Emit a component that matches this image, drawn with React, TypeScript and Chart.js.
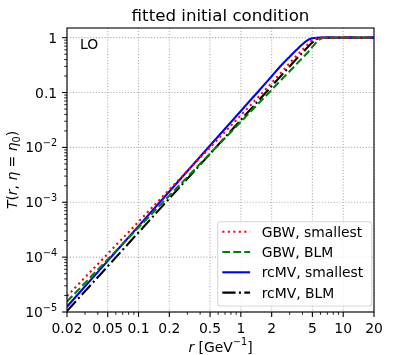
import React, { useEffect, useRef } from 'react';
import { Chart, registerables } from 'chart.js';
Chart.register(...registerables);

// ---- data ----
const rValues = [0.02, 0.05, 0.1, 0.2, 0.5, 1, 1.5, 2, 2.5, 3, 3.5, 4, 4.5, 5, 5.5, 6, 6.5, 7, 10, 20];
const gbwSmallest = [1.95e-5, 1.15e-4, 4.43e-4, 1.7e-3, 1.0e-2, 0.0385, 0.0846, 0.15, 0.235, 0.345, 0.47, 0.6, 0.75, 0.9, 0.975, 0.997, 1, 1, 1, 1];
const gbwBLM = [1.55e-5, 9.08e-5, 3.46e-4, 1.32e-3, 7.73e-3, 0.0294, 0.0644, 0.112, 0.173, 0.245, 0.33, 0.428, 0.537, 0.68, 0.83, 0.95, 0.99, 1, 1, 1];
const rcmvSmallest = [1.25e-5, 8.56e-5, 3.67e-4, 1.57e-3, 1.08e-2, 0.0462, 0.108, 0.198, 0.317, 0.45, 0.6, 0.76, 0.9, 0.975, 0.997, 1, 1, 1, 1, 1];
const rcmvBLM = [1.04e-5, 6.8e-5, 2.82e-4, 1.17e-3, 7.64e-3, 0.0316, 0.0726, 0.131, 0.207, 0.3, 0.412, 0.53, 0.67, 0.82, 0.94, 0.985, 0.998, 1, 1, 1];

const seriesLabels = ['GBW, smallest', 'GBW, BLM', 'rcMV, smallest', 'rcMV, BLM'];
const xTickValues = [0.02, 0.05, 0.1, 0.2, 0.5, 1, 2, 5, 10, 20];
const xTickLabels = ['0.02', '0.05', '0.1', '0.2', '0.5', '1', '2', '5', '10', '20'];
const yTickValues = [1e-5, 1e-4, 1e-3, 1e-2, 0.1, 1];
const yTickBase = ['10', '10', '10', '10', '0.1', '1'];
const yTickExp = ['\u22125', '\u22124', '\u22123', '\u22122', '', ''];
const titleText = 'fitted initial condition';
const panelLabel = 'LO';

const FONT = '"DejaVu Sans", sans-serif';
const FS = 13.9;

const styles = [
  { color: '#ff0000', dash: [2.1, 3.4] },
  { color: '#008000', dash: [7.7, 3.3] },
  { color: '#0000ff', dash: [] as number[] },
  { color: '#000000', dash: [13.3, 3.3, 2.1, 3.3] },
];
const LW = 2.1;

function minorValues(min: number, max: number, majors: number[]) {
  const out: number[] = [];
  for (let e = -6; e <= 2; e++) {
    for (let m = 1; m <= 9; m++) {
      const v = m * Math.pow(10, e);
      if (v >= min * 0.999 && v <= max * 1.001 && !majors.some((t) => Math.abs(t - v) / v < 1e-6)) out.push(v);
    }
  }
  return out;
}

function drawPieces(ctx: CanvasRenderingContext2D, pieces: { t: string; f: string; dy?: number }[], cx: number, baseY: number) {
  let total = 0;
  for (const p of pieces) {
    ctx.font = p.f;
    total += ctx.measureText(p.t).width;
  }
  let x = cx - total / 2;
  ctx.textAlign = 'left';
  ctx.textBaseline = 'alphabetic';
  for (const p of pieces) {
    ctx.font = p.f;
    ctx.fillText(p.t, x, baseY + (p.dy || 0));
    x += ctx.measureText(p.t).width;
  }
}

const overlay = {
  id: 'overlay',
  beforeDatasetsDraw(chart: any) {
    const { ctx, chartArea: a, scales } = chart;
    const x = scales.x, y = scales.y;
    ctx.save();
    ctx.strokeStyle = '#b0b0b0';
    ctx.lineWidth = 1.1;
    ctx.setLineDash([1.1, 1.8]);
    for (const v of xTickValues) {
      const px = x.getPixelForValue(v);
      ctx.beginPath();
      ctx.moveTo(px, a.top);
      ctx.lineTo(px, a.bottom);
      ctx.stroke();
    }
    for (const v of yTickValues) {
      const py = y.getPixelForValue(v);
      ctx.beginPath();
      ctx.moveTo(a.left, py);
      ctx.lineTo(a.right, py);
      ctx.stroke();
    }
    ctx.restore();
  },
  afterDraw(chart: any) {
    const { ctx, chartArea: a, scales } = chart;
    const x = scales.x, y = scales.y;
    ctx.save();
    ctx.fillStyle = '#000';
    ctx.strokeStyle = '#000';
    ctx.setLineDash([]);

    // ticks
    ctx.lineWidth = 1.1;
    for (const v of xTickValues) {
      const px = x.getPixelForValue(v);
      ctx.beginPath();
      ctx.moveTo(px, a.bottom);
      ctx.lineTo(px, a.bottom + 4.9);
      ctx.stroke();
    }
    for (const v of yTickValues) {
      const py = y.getPixelForValue(v);
      ctx.beginPath();
      ctx.moveTo(a.left, py);
      ctx.lineTo(a.left - 4.9, py);
      ctx.stroke();
    }
    ctx.lineWidth = 0.85;
    for (const v of minorValues(0.02, 20, xTickValues)) {
      const px = x.getPixelForValue(v);
      ctx.beginPath();
      ctx.moveTo(px, a.bottom);
      ctx.lineTo(px, a.bottom + 2.8);
      ctx.stroke();
    }
    for (const v of minorValues(1e-5, 1.5, yTickValues)) {
      const py = y.getPixelForValue(v);
      ctx.beginPath();
      ctx.moveTo(a.left, py);
      ctx.lineTo(a.left - 2.8, py);
      ctx.stroke();
    }

    // frame
    ctx.lineWidth = 1.1;
    ctx.strokeRect(a.left, a.top, a.right - a.left, a.bottom - a.top);

    // x tick labels
    ctx.font = `${FS}px ${FONT}`;
    ctx.textAlign = 'center';
    ctx.textBaseline = 'alphabetic';
    xTickValues.forEach((v, i) => {
      ctx.fillText(xTickLabels[i], x.getPixelForValue(v), a.bottom + 20.5);
    });

    // y tick labels
    const rightX = a.left - 4.9 - 4.9;
    yTickValues.forEach((v, i) => {
      const py = y.getPixelForValue(v);
      ctx.textAlign = 'right';
      ctx.textBaseline = 'alphabetic';
      let xr = rightX;
      if (yTickExp[i]) {
        ctx.font = `${FS * 0.7}px ${FONT}`;
        ctx.fillText(yTickExp[i], xr, py - 1.5);
        xr -= ctx.measureText(yTickExp[i]).width;
      }
      ctx.font = `${FS}px ${FONT}`;
      ctx.fillText(yTickBase[i], xr, py + 5);
    });

    // title
    ctx.font = `16.67px ${FONT}`;
    ctx.textAlign = 'center';
    ctx.fillText(titleText, (a.left + a.right) / 2, 20.5);

    // panel label
    ctx.font = `${FS}px ${FONT}`;
    ctx.textAlign = 'left';
    ctx.fillText(panelLabel, a.left + 13, a.top + 20.5);

    // x axis label
    const it = `italic ${FS}px ${FONT}`;
    const nf = `${FS}px ${FONT}`;
    const sf = `${FS * 0.7}px ${FONT}`;
    drawPieces(ctx, [
      { t: 'r', f: it },
      { t: ' [GeV', f: nf },
      { t: '\u22121', f: sf, dy: -6.5 },
      { t: ']', f: nf },
    ], (a.left + a.right) / 2, 351.5);

    // y axis label
    ctx.save();
    ctx.translate(17, (a.top + a.bottom) / 2);
    ctx.rotate(-Math.PI / 2);
    drawPieces(ctx, [
      { t: 'T', f: it },
      { t: '(', f: nf },
      { t: 'r', f: it },
      { t: ', ', f: nf },
      { t: '\u03b7', f: it },
      { t: ' = ', f: nf },
      { t: '\u03b7', f: it },
      { t: '0', f: sf, dy: 2.5 },
      { t: ')', f: nf },
    ], 0, 0);
    ctx.restore();

    // legend
    const lx = 217.7, ly = 221.7, lw = 154, lh = 84.3;
    ctx.save();
    ctx.beginPath();
    const rr = 2.8;
    ctx.moveTo(lx + rr, ly);
    ctx.arcTo(lx + lw, ly, lx + lw, ly + lh, rr);
    ctx.arcTo(lx + lw, ly + lh, lx, ly + lh, rr);
    ctx.arcTo(lx, ly + lh, lx, ly, rr);
    ctx.arcTo(lx, ly, lx + lw, ly, rr);
    ctx.closePath();
    ctx.fillStyle = 'rgba(255,255,255,0.8)';
    ctx.fill();
    ctx.strokeStyle = 'rgba(204,204,204,0.8)';
    ctx.lineWidth = 1.1;
    ctx.stroke();
    ctx.restore();
    seriesLabels.forEach((lab, i) => {
      const cy = 231.7 + i * 20.3;
      ctx.save();
      ctx.strokeStyle = styles[i].color;
      ctx.lineWidth = LW;
      ctx.setLineDash(styles[i].dash);
      ctx.beginPath();
      ctx.moveTo(222.3, cy);
      ctx.lineTo(250.1, cy);
      ctx.stroke();
      ctx.restore();
      ctx.font = `${FS}px ${FONT}`;
      ctx.textAlign = 'left';
      ctx.textBaseline = 'alphabetic';
      ctx.fillStyle = '#000';
      ctx.fillText(lab, 261.7, cy + 5);
    });

    ctx.restore();
  },
};

export default function App() {
  const ref = useRef<HTMLCanvasElement | null>(null);
  useEffect(() => {
    document.body.style.margin = '0';
    const canvas = ref.current;
    if (!canvas) return;
    const all = [gbwSmallest, gbwBLM, rcmvSmallest, rcmvBLM];
    const chart = new Chart(canvas, {
      type: 'line',
      data: {
        datasets: all.map((arr, i) => ({
          label: seriesLabels[i],
          data: rValues.map((r, j) => ({ x: r, y: arr[j] })),
          borderColor: styles[i].color,
          backgroundColor: styles[i].color,
          borderWidth: LW,
          borderDash: styles[i].dash,
          borderCapStyle: 'butt',
          pointRadius: 0,
          fill: false,
          cubicInterpolationMode: 'monotone',
        })),
      },
      options: {
        responsive: false,
        animation: false,
        devicePixelRatio: 1,
        events: [],
        layout: { padding: { left: 67, right: 20, top: 28, bottom: 43 } },
        scales: {
          x: { type: 'logarithmic', min: 0.02, max: 20, display: false },
          y: { type: 'logarithmic', min: 1e-5, max: 1.5, display: false },
        },
        plugins: { legend: { display: false }, title: { display: false }, tooltip: { enabled: false } },
      },
      plugins: [overlay],
    } as any);
    return () => chart.destroy();
  }, []);
  return <canvas ref={ref} width={394} height={355} style={{ display: 'block', width: 394, height: 355 }} />;
}
